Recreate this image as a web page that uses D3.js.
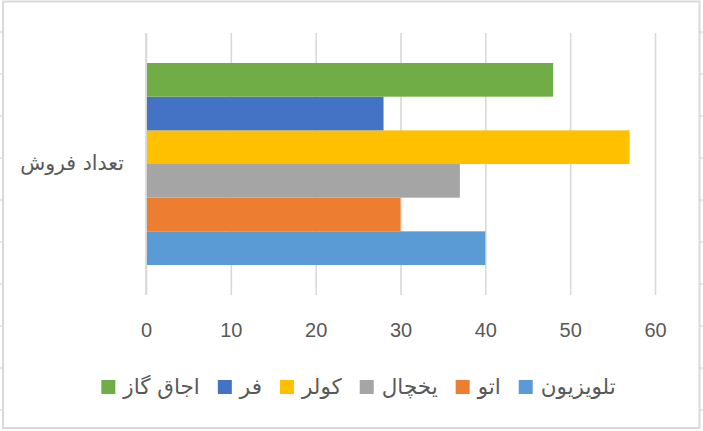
<!DOCTYPE html>
<html>
<head>
<meta charset="utf-8">
<script src="https://cdn.jsdelivr.net/npm/d3@7"></script>
<style>
  html, body { margin: 0; padding: 0; background: #fff; }
  svg { display: block; }
  text { font-family: "Liberation Sans", "DejaVu Sans", Arial, sans-serif; fill: #595959; }
</style>
</head>
<body>
<svg id="chart" width="703" height="431"></svg>
<script>
// ---- data ----
const category = ["تعداد فروش"];
// series in Excel order (series 1 drawn at bottom, shown rightmost in RTL legend)
const seriesNames = ["تلویزیون", "اتو", "یخچال", "کولر", "فر", "اجاق گاز"];
const seriesValues = [40, 30, 37, 57, 28, 48];
const seriesColors = ["#5b9bd5", "#ed7d31", "#a5a5a5", "#ffc000", "#4472c4", "#70ad47"];
const xTicks = [0, 10, 20, 30, 40, 50, 60];

const svg = d3.select("#chart");
const plot = { left: 146, right: 655, top: 33, bottom: 295 };

// chart border
svg.append("rect")
  .attr("x", 3).attr("y", 1.5).attr("width", 696.5).attr("height", 426.5)
  .attr("fill", "#fff").attr("stroke", "#d9d9d9").attr("stroke-width", 2);

// sheet row marks outside border
const rowMarks = d3.range(32, 420, 42);
svg.selectAll(".rowL").data(rowMarks).enter().append("line")
  .attr("x1", 0).attr("x2", 2).attr("y1", d => d).attr("y2", d => d)
  .attr("stroke", "#d0d0d0").attr("stroke-width", 1);
svg.selectAll(".rowR").data(rowMarks).enter().append("line")
  .attr("x1", 700).attr("x2", 703).attr("y1", d => d).attr("y2", d => d)
  .attr("stroke", "#d0d0d0").attr("stroke-width", 1);

const x = d3.scaleLinear().domain([0, 60]).range([plot.left, plot.right]);
const yCat = d3.scaleBand().domain(category).range([plot.top, plot.bottom])
  .paddingInner(0).paddingOuter(0.1485);
// top-to-bottom order is reverse of series order
const ySer = d3.scaleBand().domain(d3.range(seriesNames.length).reverse())
  .range([0, yCat.bandwidth()]).padding(0);

// gridlines + tick labels
const axis = d3.axisBottom(x).tickValues(xTicks).tickSize(-(plot.bottom - plot.top))
  .tickPadding(28).tickFormat(d3.format("d"));
const gx = svg.append("g").attr("transform", `translate(0,${plot.bottom})`).call(axis);
gx.select(".domain").remove();
gx.selectAll(".tick line").attr("stroke", "#d9d9d9").attr("stroke-width", 1.6);
gx.selectAll(".tick text").attr("font-size", 20).attr("fill", "#595959")
  .style("font-family", "'Liberation Sans', Arial, sans-serif");

// bars
const bars = svg.append("g");
category.forEach(c => {
  bars.selectAll("rect.s").data(seriesValues).enter().append("rect")
    .attr("x", x(0) + 1)
    .attr("y", (d, i) => yCat(c) + ySer(i))
    .attr("width", d => x(d) - x(0) - 1)
    .attr("height", ySer.bandwidth())
    .attr("fill", (d, i) => seriesColors[i]);
});

// category axis line
svg.append("line").attr("x1", x(0)).attr("x2", x(0))
  .attr("y1", plot.top).attr("y2", plot.bottom)
  .attr("stroke", "#d9d9d9").attr("stroke-width", 1.6);

// category label
svg.append("text").attr("x", 72).attr("y", yCat(category[0]) + yCat.bandwidth() / 2 + 6)
  .attr("text-anchor", "middle").attr("font-size", 20.5)
  .style("font-family", "'DejaVu Sans', Arial, sans-serif")
  .text(category[0]);

// legend (RTL: last series leftmost)
const legendOrder = d3.range(seriesNames.length).reverse();
const lg = svg.append("g");
const items = legendOrder.map(i => {
  const t = lg.append("text").attr("font-size", 21.5).attr("text-anchor", "middle")
    .style("font-family", "'DejaVu Sans', Arial, sans-serif")
    .text(seriesNames[i]);
  return { i, t, w: t.node().getComputedTextLength() };
});
const markerSize = 14, markerGap = 8, itemGap = 18;
const total = d3.sum(items, d => markerSize + markerGap + d.w) + itemGap * (items.length - 1);
let cx = 358.5 - total / 2;
const legendY = 387;
items.forEach(it => {
  lg.append("rect").attr("x", cx).attr("y", legendY - markerSize / 2)
    .attr("width", markerSize).attr("height", markerSize).attr("fill", seriesColors[it.i]);
  it.t.attr("x", cx + markerSize + markerGap + it.w / 2).attr("y", legendY + 7);
  cx += markerSize + markerGap + it.w + itemGap;
});
</script>
</body>
</html>
